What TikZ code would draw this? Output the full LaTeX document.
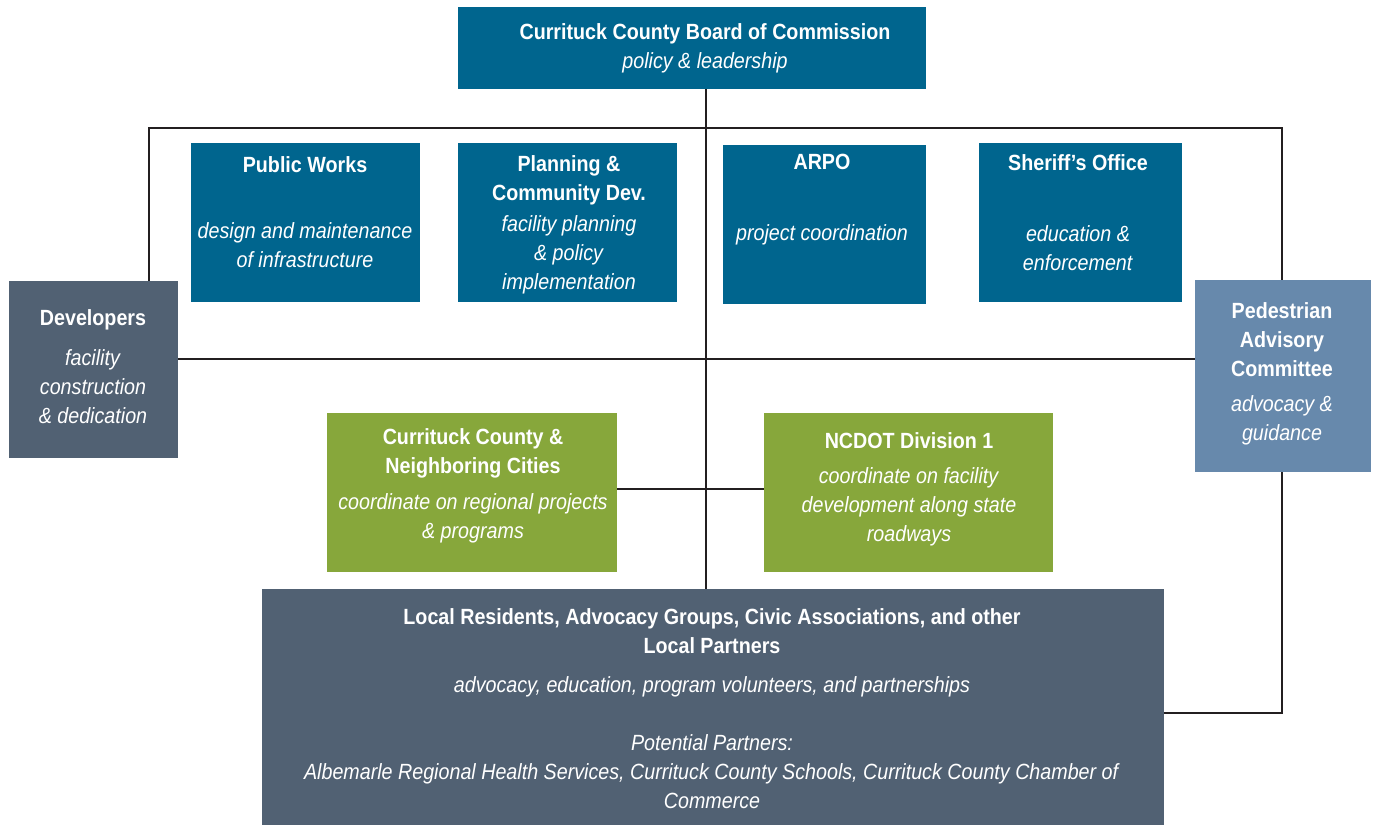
\documentclass[tikz,border=0pt]{standalone}
\usepackage{fontspec}
\setmainfont{Liberation Sans}[FakeStretch=0.895]
\usetikzlibrary{backgrounds}
\definecolor{cblue}{RGB}{0,101,142}
\definecolor{cslate}{RGB}{81,97,115}
\definecolor{cped}{RGB}{103,137,172}
\definecolor{cgreen}{RGB}{135,167,59}
\definecolor{cline}{RGB}{35,31,32}
\tikzset{
  box/.style={draw=none, inner sep=0, outer sep=0},
  txt/.style={text=white, align=center, inner sep=0, anchor=north, font=\fontsize{22}{29}\selectfont},
  conn/.style={draw=cline, line width=2.5pt},
}
\begin{document}
\begin{tikzpicture}[x=1pt,y=-1pt]
\useasboundingbox (0,0) rectangle (1374,825);
% boxes
\node[box, fill=cblue, minimum width=468, minimum height=82] (board) at (692,48) {};
\node[box, fill=cblue, minimum width=229, minimum height=159] (pw) at (305.5,222.5) {};
\node[box, fill=cblue, minimum width=219, minimum height=159] (plan) at (567.5,222.5) {};
\node[box, fill=cblue, minimum width=203, minimum height=159] (arpo) at (824.5,224.5) {};
\node[box, fill=cblue, minimum width=203, minimum height=159] (sher) at (1080.5,222.5) {};
\node[box, fill=cslate, minimum width=169, minimum height=177] (dev) at (93.5,369.5) {};
\node[box, fill=cped, minimum width=176, minimum height=192] (ped) at (1283,376) {};
\node[box, fill=cgreen, minimum width=290, minimum height=159] (ccn) at (472,492.5) {};
\node[box, fill=cgreen, minimum width=289, minimum height=159] (ncdot) at (908.5,492.5) {};
\node[box, fill=cslate, minimum width=902, minimum height=236] (local) at (713,707) {};
% junction coordinates
\coordinate (trunk) at (706,128);
\coordinate (jl) at (149,128);
\coordinate (jr) at (1282,128);
\coordinate (midy) at (706,359);
\coordinate (gy) at (706,489);
\coordinate (lowr) at (1282,713);
% connectors (behind boxes)
\begin{scope}[on background layer]
\draw[conn] (board.south -| trunk) -- (local.north -| trunk);
\draw[conn] (dev.north -| jl) -- (jl) -- (jr) -- (ped.north -| jr);
\draw[conn] (ped.south -| lowr) -- (lowr) -- (local.east |- lowr);
\draw[conn] (dev.east |- midy) -- (ped.west |- midy);
\draw[conn] (ccn.east |- gy) -- (ncdot.west |- gy);
\end{scope}
% texts
\node[txt] (tboard) at (705,23) {\textbf{Currituck County Board of Commission}\\\textit{policy \& leadership}};
\node[txt] (tpw) at (305,156) {\textbf{Public Works}\\[37pt]\textit{design and maintenance}\\\textit{of infrastructure}};
\node[txt] (tplan) at (569,155) {\textbf{Planning \&}\\\textbf{Community Dev.}\\[2pt]\textit{facility planning}\\\textit{\& policy}\\\textit{implementation}};
\node[txt] (tarpo) at (822,154) {\textbf{ARPO}\\[42pt]\textit{project coordination}};
\node[txt] (tsher) at (1078,154) {\textbf{Sheriff’s Office}\\[42pt]\textit{education \&}\\\textit{enforcement}};
\node[txt] (tdev) at (93,309) {\textbf{Developers}\\[11pt]\textit{facility}\\\textit{construction}\\\textit{\& dedication}};
\node[txt] (tped) at (1282,302) {\textbf{Pedestrian}\\\textbf{Advisory}\\\textbf{Committee}\\[6pt]\textit{advocacy \&}\\\textit{guidance}};
\node[txt] (tccn) at (473,428) {\textbf{Currituck County \&}\\\textbf{Neighboring Cities}\\[7pt]\textit{coordinate on regional projects}\\\textit{\& programs}};
\node[txt] (tnc) at (909,432) {\textbf{NCDOT Division 1}\\[6pt]\textit{coordinate on facility}\\\textit{development along state}\\\textit{roadways}};
\node[txt] (tlocal) at (712,608) {\textbf{Local Residents, Advocacy Groups, Civic Associations, and other}\\\textbf{Local Partners}\\[10pt]\textit{advocacy, education, program volunteers, and partnerships}\\[29pt]\textit{Potential Partners:}\\\textit{Albemarle Regional Health Services, Currituck County Schools, Currituck County Chamber of}\\\textit{Commerce}};
\end{tikzpicture}
\end{document}
